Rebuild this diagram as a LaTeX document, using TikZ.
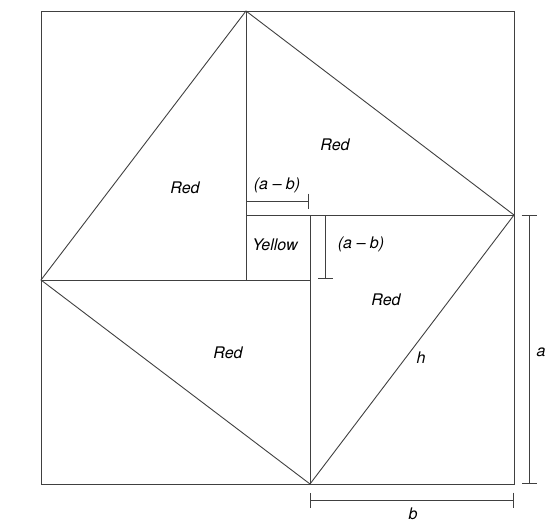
\documentclass[tikz,border=0pt]{standalone}
\usepackage{fontspec}
\setsansfont{TeX Gyre Heros}
\usepackage{tikz}
\usetikzlibrary{arrows.meta}
\tikzset{
  edgeline/.style={line width=0.9pt, black!75},
  dimline/.style={line width=0.9pt, black!75},
  dimboth/.style={dimline, {Bar[width=15pt]}-{Bar[width=15pt]}},
  dimend/.style={dimline, -{Bar[width=15pt]}},
  arealabel/.style={font=\sffamily\itshape\fontsize{16}{19}\selectfont, inner sep=1pt}
}
\begin{document}
\begin{tikzpicture}[x=1pt, y=-1pt]
      \useasboundingbox (0,0) rectangle (558,525);
      % outer square
      \coordinate (tl) at (41,11);
      \coordinate (tr) at (514,11);
      \coordinate (br) at (514,484);
      \coordinate (bl) at (41,484);
      % inner tilted square
      \coordinate (ptop) at (246,11);
      \coordinate (pright) at (514,215);
      \coordinate (pbottom) at (310,484);
      \coordinate (pleft) at (41,280);
      % yellow square
      \coordinate (ytl) at (246,215);
      \coordinate (ytr) at (310,215);
      \coordinate (ybl) at (246,280);
      \coordinate (ybr) at (310,280);
      \draw[edgeline] (tl) -- (tr) -- (br) -- (bl) -- cycle;
      \draw[edgeline] (ptop) -- (pright) -- (pbottom) -- (pleft) -- cycle;
      \draw[edgeline] (ptop) -- (ybl);
      \draw[edgeline] (ytl) -- (pright);
      \draw[edgeline] (pleft) -- (ybr);
      \draw[edgeline] (ytr) -- (pbottom);
      % dimensions
      \coordinate (d1a) at (246,201);
      \coordinate (d1b) at (309,201);
      \coordinate (d2a) at (325,215);
      \coordinate (d2b) at (325,279);
      \coordinate (da1) at (529,215);
      \coordinate (da2) at (529,484);
      \coordinate (db1) at (310,500);
      \coordinate (db2) at (514,500);
      \draw[dimend] (d1a) -- (d1b);
      \draw[dimend] (d2a) -- (d2b);
      \draw[dimboth] (da1) -- (da2);
      \draw[dimboth] (db1) -- (db2);
      % labels
      \node[arealabel] (redleft) at (185,188) {Red};
      \node[arealabel] (redtop) at (335,145) {Red};
      \node[arealabel] (redright) at (386,300) {Red};
      \node[arealabel] (redbottom) at (228,353) {Red};
      \node[arealabel] (yellow) at (275,245) {Yellow};
      \node[arealabel] (abtop) at (277,185) {(a -- b)};
      \node[arealabel] (abside) at (361,244) {(a -- b)};
      \node[arealabel] (hlabel) at (421,358) {h};
      \node[arealabel] (alabel) at (541,352) {a};
      \node[arealabel] (blabel) at (413,514) {b};
\end{tikzpicture}
\end{document}
